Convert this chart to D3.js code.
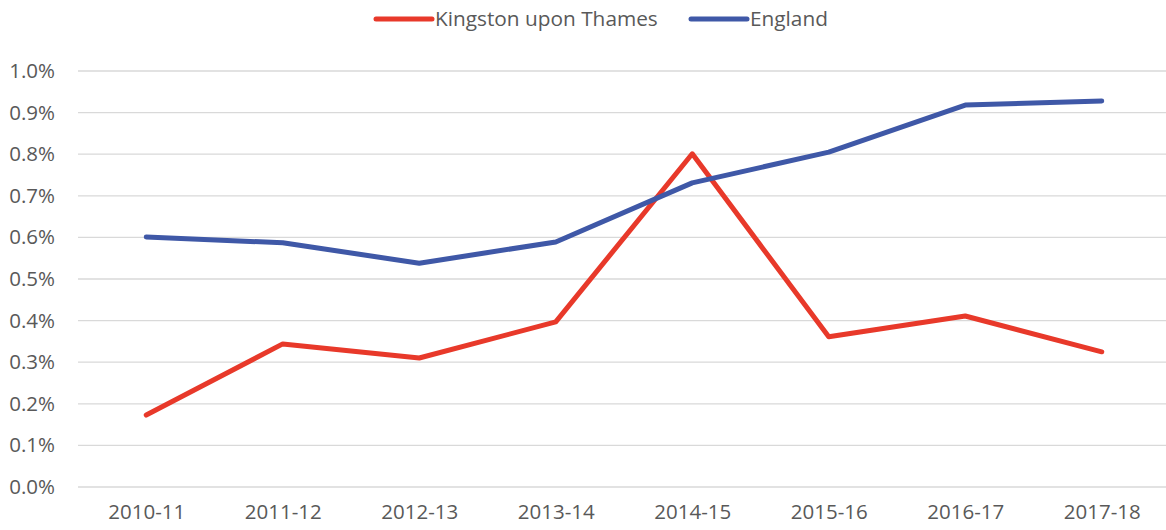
<!DOCTYPE html>
<html>
<head>
<meta charset="utf-8">
<script src="https://cdn.jsdelivr.net/npm/d3@7"></script>
<style>
  body { margin: 0; background: #fff; }
  text { font-family: "Open Sans", Lato, sans-serif; fill: #595959; }
</style>
</head>
<body>
<div id="chart"></div>
<script>
// Data
var years = ["2010-11", "2011-12", "2012-13", "2013-14", "2014-15", "2015-16", "2016-17", "2017-18"];
var kingston = [0.173, 0.344, 0.310, 0.397, 0.801, 0.361, 0.411, 0.325];
var england = [0.601, 0.587, 0.538, 0.589, 0.731, 0.805, 0.918, 0.928];
var yTicks = [0, 0.1, 0.2, 0.3, 0.4, 0.5, 0.6, 0.7, 0.8, 0.9, 1.0];

var series = [
  { name: "Kingston upon Thames", values: kingston, color: "#E8392A" },
  { name: "England", values: england, color: "#3F58A7" }
];

var svgWidth = 1166;
var svgHeight = 530;
var margin = { top: 71, bottom: 43, left: 78, right: -4 };
var width = svgWidth - margin.left - margin.right;
var height = svgHeight - margin.top - margin.bottom;

var svg = d3.select("#chart")
  .append("svg")
  .attr("width", svgWidth)
  .attr("height", svgHeight);

var chartGroup = svg.append("g")
  .attr("transform", `translate(${margin.left}, ${margin.top})`);

var x = d3.scalePoint()
  .domain(years)
  .range([0, width])
  .padding(0.5);

var y = d3.scaleLinear()
  .domain([0, 1.0])
  .range([height, 0]);

// gridlines
chartGroup.selectAll(".grid")
  .data(yTicks)
  .enter()
  .append("line")
  .attr("x1", 0)
  .attr("x2", width)
  .attr("y1", d => y(d))
  .attr("y2", d => y(d))
  .attr("stroke", "#d9d9d9")
  .attr("stroke-width", 1.3);

// y axis labels
var leftAxis = d3.axisLeft(y)
  .tickValues(yTicks)
  .tickSize(0)
  .tickPadding(23)
  .tickFormat(d => d.toFixed(1) + "%");
var yAxisG = chartGroup.append("g").call(leftAxis);
yAxisG.select(".domain").remove();
yAxisG.selectAll("text")
  .style("font-size", "20.5px")
  .attr("fill", "#595959");

// x axis labels
var bottomAxis = d3.axisBottom(x).tickSize(0).tickPadding(17);
var xAxisG = chartGroup.append("g")
  .attr("transform", `translate(0, ${height})`)
  .call(bottomAxis);
xAxisG.select(".domain").remove();
xAxisG.selectAll("text")
  .style("font-size", "20.5px")
  .attr("fill", "#595959");

// lines
var line = d3.line()
  .x((d, i) => x(years[i]))
  .y(d => y(d));

chartGroup.selectAll(".series")
  .data(series)
  .enter()
  .append("path")
  .attr("d", d => line(d.values))
  .attr("fill", "none")
  .attr("stroke", d => d.color)
  .attr("stroke-width", 5)
  .attr("stroke-linecap", "round")
  .attr("stroke-linejoin", "round");

// legend
var legendX = [376, 691];
var legend = svg.selectAll(".legend")
  .data(series)
  .enter()
  .append("g")
  .attr("transform", (d, i) => `translate(${legendX[i]}, 19)`);

legend.append("line")
  .attr("x1", 0)
  .attr("x2", 56)
  .attr("stroke", d => d.color)
  .attr("stroke-width", 5)
  .attr("stroke-linecap", "round");

legend.append("text")
  .attr("x", 59)
  .attr("dy", "0.35em")
  .style("font-size", "20.8px")
  .text(d => d.name);
</script>
</body>
</html>
